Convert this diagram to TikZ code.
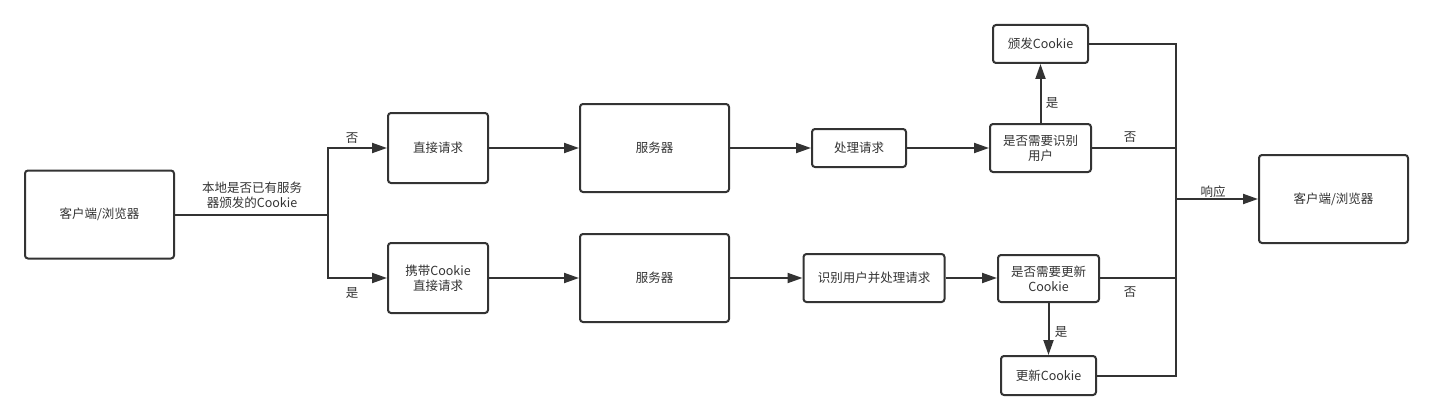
\documentclass[tikz,border=0pt]{standalone}
\usepackage{fontspec}
\setmainfont{Noto Sans CJK SC}
\usetikzlibrary{arrows.meta}
\definecolor{ink}{HTML}{333333}
\tikzset{
  box/.style={draw=ink, line width=2pt, rounded corners=3pt, fill=white, text=ink,
    align=center, inner sep=0pt, font=\fontsize{12.5}{15}\selectfont},
  lbl/.style={text=ink, align=center, inner sep=0pt, font=\fontsize{12.5}{15}\selectfont},
  conn/.style={draw=ink, line width=2pt},
  arr/.style={conn, -{Triangle[length=15pt,width=10pt]}},
}
\begin{document}
\begin{tikzpicture}[x=1pt,y=-1pt]
\useasboundingbox (0,0) rectangle (1433,420);
% nodes
\node[box, minimum width=149pt, minimum height=88pt] (client1) at (99.5,214.5) {客户端/浏览器};
\node[box, minimum width=100pt, minimum height=70pt] (direct) at (438,148) {直接请求};
\node[box, minimum width=100pt, minimum height=70pt] (carry) at (438,278) {携带Cookie\\直接请求};
\node[box, minimum width=149pt, minimum height=88pt] (server1) at (654.5,148) {服务器};
\node[box, minimum width=149pt, minimum height=88pt] (server2) at (654.5,278) {服务器};
\node[box, minimum width=94pt, minimum height=38pt] (handle) at (859,148) {处理请求};
\node[box, minimum width=141pt, minimum height=48pt] (ident) at (874,278) {识别用户并处理请求};
\node[box, minimum width=101pt, minimum height=48pt] (dec1) at (1040.5,148) {是否需要识别\\用户};
\node[box, minimum width=101pt, minimum height=47pt] (dec2) at (1048.5,278.5) {是否需要更新\\Cookie};
\node[box, minimum width=95pt, minimum height=38pt] (issue) at (1040.5,44) {颁发Cookie};
\node[box, minimum width=95pt, minimum height=39pt] (update) at (1048.5,375.5) {更新Cookie};
\node[box, minimum width=149pt, minimum height=88pt] (client2) at (1333.5,199) {客户端/浏览器};
% coordinates
\coordinate (split) at (328,214.5);
\coordinate (bus) at (1176,199);
% connectors
\draw[conn] (client1.east) -- (split);
\draw[arr] (split) |- (direct.west);
\draw[arr] (split) |- (carry.west);
\draw[arr] (direct) -- (server1);
\draw[arr] (carry) -- (server2);
\draw[arr] (server1) -- (handle);
\draw[arr] (server2) -- (ident);
\draw[arr] (handle) -- (dec1);
\draw[arr] (ident.east) -- (dec2.west |- ident.east);
\draw[arr] (dec1) -- (issue);
\draw[arr] (dec2) -- (update);
\draw[conn] (issue.east) -| (bus);
\draw[conn] (dec1.east) -| (bus);
\draw[conn] (dec2.east |- ident.east) -| (bus);
\draw[conn] (update.east) -| (bus);
\draw[arr] (bus) -- (client2.west);
% labels
\node[lbl] (qlocal) at (252,195) {本地是否已有服务\\器颁发的Cookie};
\node[lbl] (no1) at (352,138) {否};
\node[lbl] (yes1) at (352,293) {是};
\node[lbl] (yes2) at (1052,103) {是};
\node[lbl] (no2) at (1130,137) {否};
\node[lbl] (no3) at (1130,292) {否};
\node[lbl] (yes3) at (1061,332) {是};
\node[lbl] (resp) at (1213,192) {响应};
\end{tikzpicture}
\end{document}
